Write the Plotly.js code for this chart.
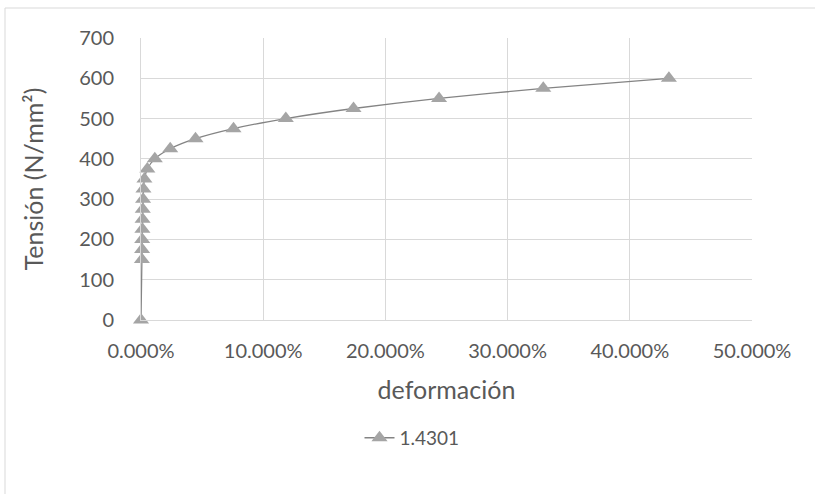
<!DOCTYPE html>
<html>
<head>
<meta charset="utf-8">
<script src="https://cdn.plot.ly/plotly-3.0.1.min.js"></script>
<style>html,body{margin:0;padding:0;background:#fff;}#chart{width:815px;height:494px;}</style>
</head>
<body>
<div id="chart"></div>
<script>
// Data
const seriesName = "1.4301";
const strain = [0, 0.00075, 0.0009, 0.001, 0.00115, 0.0013, 0.00145, 0.0017, 0.002, 0.0028, 0.0052, 0.0113, 0.0239, 0.0446, 0.0757, 0.1185, 0.1739, 0.2439, 0.3292, 0.432];
const stress = [0, 150, 175, 200, 225, 250, 275, 300, 325, 350, 375, 400, 425, 450, 475, 500, 525, 550, 575, 600];
const xTickVals = [0, 0.1, 0.2, 0.3, 0.4, 0.5];
const yTickVals = [0, 100, 200, 300, 400, 500, 600, 700];
const xTitle = "deformación";
const yTitle = "Tensión (N/mm²)";

const W = 815, H = 494;
const L = 141, R = 63, T = 38, B = 174;
const pw = W - L - R, ph = H - T - B;
const txt = "#595959", grid = "#d9d9d9";
const fam = "Lato, 'Open Sans', sans-serif";

const trace = {
  x: strain, y: stress, name: seriesName, type: "scatter", mode: "lines+markers",
  line: {color: "#848484", width: 1.3, shape: "spline", smoothing: 0.6},
  marker: {symbol: "triangle-up", size: 14, color: "#a5a5a5", line: {width: 0}},
  cliponaxis: false
};

const layout = {
  width: W, height: H,
  margin: {l: L, r: R, t: T, b: B},
  paper_bgcolor: "#fff", plot_bgcolor: "#fff",
  font: {family: fam, color: txt, size: 20},
  showlegend: true,
  legend: {orientation: "h", x: (412 - L) / pw, xanchor: "center", y: -0.418, yanchor: "middle",
           font: {size: 19, color: txt, family: fam}},
  xaxis: {
    range: [0, 0.5], tickvals: xTickVals, tickformat: ".3%",
    showgrid: true, gridcolor: grid, gridwidth: 1,
    zeroline: false, showline: true, linecolor: grid, linewidth: 1,
    ticks: "", ticklabelstandoff: 13,
    tickfont: {size: 20, color: txt, family: fam},
    title: {text: xTitle, font: {size: 25, color: txt, family: fam}, standoff: 20}
  },
  yaxis: {
    range: [0, 700], tickvals: yTickVals,
    showgrid: true, gridcolor: grid, gridwidth: 1,
    zeroline: false, showline: true, linecolor: grid, linewidth: 1,
    ticks: "", ticklabelstandoff: 22,
    tickfont: {size: 20, color: txt, family: fam},
    title: {text: yTitle, font: {size: 25, color: txt, family: fam}, standoff: 28}
  },
  shapes: [{
    type: "rect", xref: "paper", yref: "paper",
    x0: (5 - L) / pw, x1: (W + 10 - L) / pw,
    y0: -(B + 10) / ph, y1: (H - B - 8) / ph,
    line: {color: "#d9d9d9", width: 1}, fillcolor: "rgba(0,0,0,0)", layer: "below"
  }]
};

Plotly.newPlot("chart", [trace], layout, {displayModeBar: false, staticPlot: true});
</script>
</body>
</html>
